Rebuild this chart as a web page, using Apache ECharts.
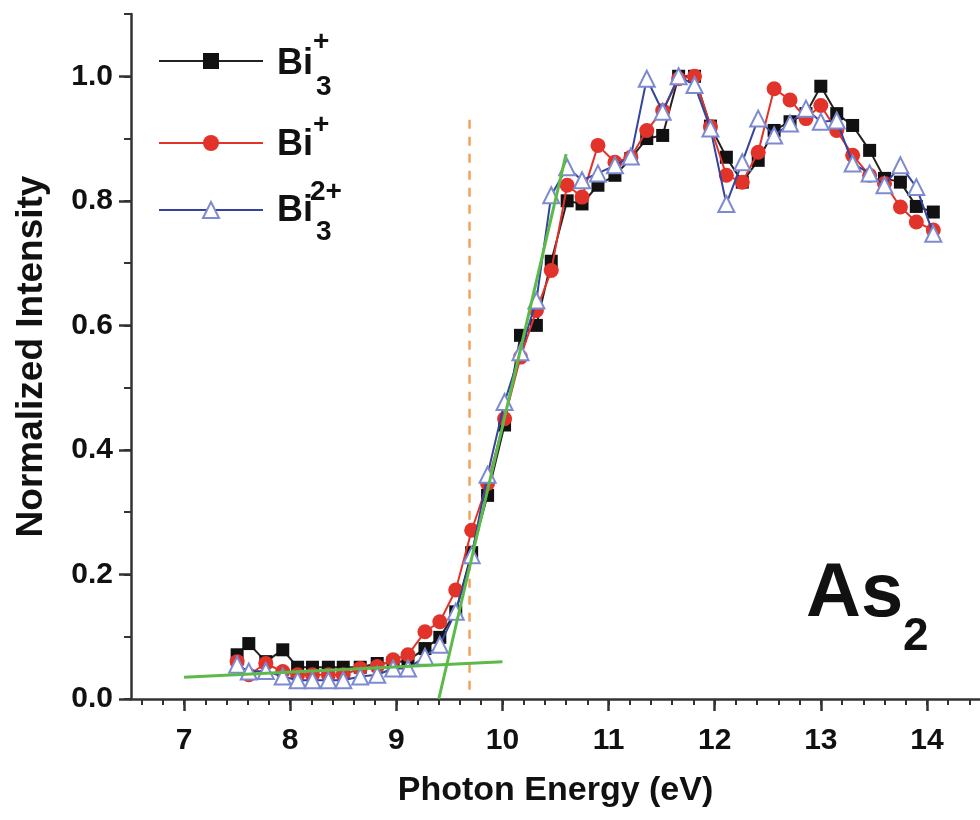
<!DOCTYPE html>
<html>
<head>
<meta charset="utf-8">
<script src="https://cdn.jsdelivr.net/npm/echarts@6/dist/echarts.min.js"></script>
<style>html,body{margin:0;padding:0;background:#fff}</style>
</head>
<body>
<div id="main" style="width: 980px;height: 820px"></div>
<script>
// photon energy (eV), shared by the three series
var energy = [7.5, 7.61, 7.77, 7.93, 8.07, 8.21, 8.36, 8.5, 8.66, 8.82,
  8.97, 9.11, 9.27, 9.41, 9.56, 9.71, 9.86, 10.02, 10.17, 10.32,
  10.46, 10.61, 10.75, 10.9, 11.06, 11.21, 11.36, 11.51, 11.66, 11.81,
  11.96, 12.11, 12.26, 12.41, 12.56, 12.71, 12.86, 13.0, 13.15, 13.3,
  13.46, 13.6, 13.75, 13.9, 14.06];
var bi3Plus = [0.071, 0.089, 0.060, 0.079, 0.051, 0.051, 0.051, 0.051, 0.051, 0.057,
  0.058, 0.062, 0.081, 0.099, 0.140, 0.235, 0.327, 0.440, 0.584, 0.600,
  0.703, 0.800, 0.795, 0.825, 0.841, 0.868, 0.900, 0.905, 1.0, 1.0,
  0.920, 0.870, 0.830, 0.865, 0.913, 0.927, 0.940, 0.984, 0.940, 0.921,
  0.881, 0.836, 0.830, 0.791, 0.782];
var biPlus = [0.060, 0.039, 0.057, 0.044, 0.039, 0.039, 0.039, 0.039, 0.049, 0.052,
  0.063, 0.071, 0.108, 0.124, 0.175, 0.271, 0.346, 0.450, 0.549, 0.624,
  0.688, 0.825, 0.806, 0.889, 0.862, 0.870, 0.913, 0.945, 0.996, 1.0,
  0.919, 0.841, 0.830, 0.878, 0.980, 0.962, 0.932, 0.953, 0.913, 0.873,
  0.841, 0.828, 0.790, 0.766, 0.753];
var bi3TwoPlus = [0.055, 0.044, 0.045, 0.036, 0.030, 0.030, 0.030, 0.030, 0.036, 0.039,
  0.049, 0.049, 0.068, 0.087, 0.140, 0.231, 0.360, 0.477, 0.557, 0.640,
  0.809, 0.854, 0.833, 0.844, 0.857, 0.871, 0.996, 0.943, 1.0, 0.986,
  0.916, 0.795, 0.862, 0.932, 0.905, 0.924, 0.948, 0.927, 0.929, 0.860,
  0.844, 0.825, 0.857, 0.822, 0.747];

// linear fits and onset marker
var baseFitX = [7.0, 10.0];
var baseFitY = [0.035, 0.060];
var edgeFitX = [9.4, 10.6];
var edgeFitY = [0.0, 0.875];
var onsetX = [9.69, 9.69];
var onsetY = [0.015, 0.93];

var xTickLabels = ['7', '8', '9', '10', '11', '12', '13', '14'];
var yTickLabels = ['0.0', '0.2', '0.4', '0.6', '0.8', '1.0'];

var FONT = "'Liberation Sans', Arial, sans-serif";
var AX = '#333';

function pairs(xs, ys) {
  return xs.map(function (x, i) { return [x, ys[i]]; });
}

var chartDom = document.getElementById('main');
var myChart = echarts.init(chartDom);

// grid geometry
var L = 131, T = 14, B = 121, R = 0;
var pxPerEv = (980 - L - R) / 8;
var pxPerUnit = (820 - T - B) / 1.1;

var hiddenAxis = function (idx) {
  return { type: 'value', gridIndex: idx, show: false };
};

var option = {
  animation: false,
  grid: [
    { left: L, top: T, right: R, bottom: B, containLabel: false, outerBoundsMode: 'none' },
    // major x ticks 7..14
    { left: L + 0.5 * pxPerEv, top: T, right: R + 0.5 * pxPerEv, bottom: B, containLabel: false, outerBoundsMode: 'none' },
    // minor x ticks 6.6..14.4
    { left: L + 0.1 * pxPerEv, top: T, right: R + 0.1 * pxPerEv, bottom: B, containLabel: false, outerBoundsMode: 'none' },
    // major y ticks 0..1.0
    { left: L, top: T + 0.1 * pxPerUnit, right: R, bottom: B, containLabel: false, outerBoundsMode: 'none' }
  ],
  xAxis: [
    {
      type: 'value', gridIndex: 0, min: 6.5, max: 14.5,
      axisLine: { show: true, lineStyle: { color: AX, width: 2.5 } },
      axisTick: { show: false }, axisLabel: { show: false }, splitLine: { show: false },
      name: 'Photon Energy (eV)', nameLocation: 'middle', nameGap: 75,
      nameTextStyle: { fontFamily: FONT, fontWeight: 'bold', fontSize: 34, color: '#111' }
    },
    {
      type: 'value', gridIndex: 1, min: 7, max: 14, interval: 1,
      axisLine: { show: false },
      axisTick: { show: true, inside: false, length: 12, lineStyle: { color: AX, width: 2.5 } },
      axisLabel: {
        margin: 27, fontFamily: FONT, fontWeight: 'bold', fontSize: 30, color: '#111',
        formatter: function (v) { return xTickLabels[Math.round(v - 7)]; }
      },
      splitLine: { show: false }
    },
    {
      type: 'value', gridIndex: 2, min: 6.6, max: 14.4, interval: 0.2,
      axisLine: { show: false },
      axisTick: { show: true, inside: false, length: 6, lineStyle: { color: AX, width: 2 } },
      axisLabel: { show: false }, splitLine: { show: false }
    },
    hiddenAxis(3)
  ],
  yAxis: [
    {
      type: 'value', gridIndex: 0, min: 0, max: 1.1, interval: 0.1,
      axisLine: { show: true, lineStyle: { color: AX, width: 2.5 } },
      axisTick: { show: true, inside: false, length: 7, lineStyle: { color: AX, width: 2 } },
      axisLabel: { show: false }, splitLine: { show: false },
      name: 'Normalized Intensity', nameLocation: 'middle', nameGap: 81,
      nameTextStyle: { fontFamily: FONT, fontWeight: 'bold', fontSize: 37, color: '#111' }
    },
    hiddenAxis(1),
    hiddenAxis(2),
    {
      type: 'value', gridIndex: 3, min: 0, max: 1.0, interval: 0.2,
      axisLine: { show: false },
      axisTick: { show: true, inside: false, length: 12, lineStyle: { color: AX, width: 2.5 } },
      axisLabel: {
        margin: 18, fontFamily: FONT, fontWeight: 'bold', fontSize: 30, color: '#111',
        formatter: function (v) { return yTickLabels[Math.round(v / 0.2)]; }
      },
      splitLine: { show: false }
    }
  ],
  legend: [
    { data: ['Bi3+'], left: 158, top: 51 },
    { data: ['Bi+'], left: 158, top: 133 },
    { data: ['Bi3 2+'], left: 158, top: 200 }
  ].map(function (l) {
    l.orient = 'vertical';
    l.padding = 0;
    l.itemWidth = 104;
    l.itemHeight = 20;
    l.selectedMode = false;
    l.formatter = function () { return ''; };
    return l;
  }),
  series: [
    {
      name: 'onset', type: 'line', data: pairs(onsetX, onsetY), symbol: 'none',
      lineStyle: { color: '#f3a25a', width: 2.5, type: [9, 8] }, silent: true, z: 1
    },
    {
      name: 'Bi3+', type: 'line', data: pairs(energy, bi3Plus),
      symbol: 'rect', symbolSize: 13,
      itemStyle: { color: '#111' },
      lineStyle: { color: '#222', width: 2 }, z: 2
    },
    {
      name: 'Bi+', type: 'line', data: pairs(energy, biPlus),
      symbol: 'circle', symbolSize: 15,
      itemStyle: { color: '#e2332b' },
      lineStyle: { color: '#e2332b', width: 2 }, z: 3
    },
    {
      name: 'Bi3 2+', type: 'line', data: pairs(energy, bi3TwoPlus),
      symbol: 'emptyTriangle', symbolSize: 16,
      itemStyle: { color: '#7d8ad0', borderWidth: 1.5 },
      lineStyle: { color: '#34449c', width: 2 }, z: 4
    },
    {
      name: 'baseFit', type: 'line', data: pairs(baseFitX, baseFitY), symbol: 'none',
      lineStyle: { color: '#5bba4a', width: 3 }, silent: true, z: 5
    },
    {
      name: 'edgeFit', type: 'line', data: pairs(edgeFitX, edgeFitY), symbol: 'none',
      lineStyle: { color: '#5bba4a', width: 3 }, silent: true, z: 5
    }
  ],
  graphic: (function () {
    var out = [];
    function txt(s, x, y, size) {
      out.push({
        type: 'text', x: x, y: y, z: 100,
        style: {
          text: s, fill: '#111', font: 'bold ' + size + 'px ' + FONT,
          align: 'left', verticalAlign: 'middle', textAlign: 'left', textVerticalAlign: 'middle'
        }
      });
    }
    // legend labels
    txt('Bi', 277, 64, 36); txt('3', 316, 87, 28); txt('+', 313, 42, 28);
    txt('Bi', 277, 145, 36); txt('+', 313, 125, 28);
    txt('Bi', 277, 211, 36); txt('2+', 310, 192, 28); txt('3', 316, 232, 28);
    // species label
    txt('As', 806, 595, 76); txt('2', 903, 637, 46);
    return out;
  })()
};

option && myChart.setOption(option);
</script>
</body>
</html>
